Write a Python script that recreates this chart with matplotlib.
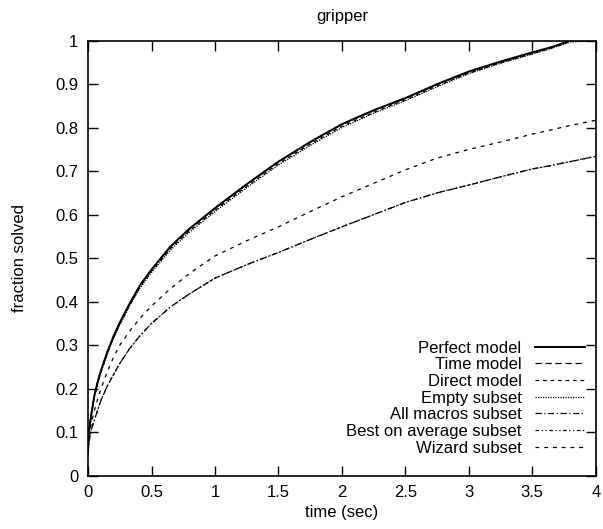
import numpy as np
import matplotlib.pyplot as plt

plt.rcParams['font.family'] = ['Liberation Sans', 'DejaVu Sans']

# time (sec) sample points
t = [0, 0.005, 0.025, 0.05, 0.075, 0.1, 0.15, 0.2, 0.25, 0.33, 0.41, 0.5, 0.65, 0.8,
     1.0, 1.25, 1.5, 1.75, 2.0, 2.25, 2.5, 2.75, 3.0, 3.25, 3.5, 3.65, 3.8, 4.0]

perfect = [0.05, 0.098, 0.14, 0.185, 0.215, 0.24, 0.283, 0.32, 0.352, 0.397, 0.438,
           0.474, 0.527, 0.568, 0.615, 0.67, 0.722, 0.767, 0.808, 0.84, 0.868, 0.9,
           0.929, 0.952, 0.973, 0.985, 1.0, 1.0]
time_model = [0.05, 0.097, 0.139, 0.184, 0.214, 0.239, 0.282, 0.319, 0.351, 0.396, 0.437,
              0.473, 0.526, 0.567, 0.614, 0.669, 0.721, 0.766, 0.807, 0.839, 0.867, 0.899,
              0.928, 0.951, 0.972, 0.984, 1.0, 1.0]
direct = [0.05, 0.096, 0.138, 0.182, 0.212, 0.237, 0.28, 0.317, 0.348, 0.393, 0.434,
          0.47, 0.522, 0.563, 0.61, 0.665, 0.717, 0.762, 0.803, 0.835, 0.864, 0.896,
          0.925, 0.949, 0.97, 0.983, 0.998, 1.0]
empty = [0.05, 0.095, 0.137, 0.181, 0.211, 0.236, 0.278, 0.315, 0.346, 0.391, 0.432,
         0.467, 0.519, 0.56, 0.607, 0.662, 0.714, 0.759, 0.8, 0.833, 0.862, 0.894,
         0.924, 0.948, 0.969, 0.982, 0.997, 1.0]
all_macros = [0.05, 0.075, 0.105, 0.128, 0.15, 0.172, 0.205, 0.232, 0.258, 0.293, 0.322,
              0.35, 0.388, 0.418, 0.454, 0.485, 0.513, 0.543, 0.572, 0.6, 0.628, 0.65,
              0.668, 0.687, 0.705, 0.713, 0.722, 0.734]
best_avg = [0.05, 0.075, 0.105, 0.128, 0.15, 0.172, 0.205, 0.232, 0.258, 0.293, 0.322,
            0.35, 0.388, 0.418, 0.454, 0.485, 0.513, 0.543, 0.572, 0.6, 0.628, 0.65,
            0.668, 0.687, 0.705, 0.713, 0.722, 0.734]
wizard = [0.05, 0.08, 0.12, 0.15, 0.175, 0.198, 0.238, 0.272, 0.3, 0.333, 0.362,
          0.39, 0.43, 0.465, 0.505, 0.54, 0.572, 0.607, 0.641, 0.672, 0.703, 0.73,
          0.75, 0.767, 0.785, 0.795, 0.805, 0.817]

fig = plt.figure(figsize=(6.03, 5.29), dpi=100)
ax = fig.add_axes([0.146, 0.1008, 0.842, 0.8224])

ax.plot(t, perfect, color='black', lw=1.4, ls='-', label='Perfect model')
ax.plot(t, time_model, color='black', lw=0.9, ls=(0, (5, 3)), label='Time model')
ax.plot(t, direct, color='black', lw=0.9, ls=(0, (3, 3)), label='Direct model')
ax.plot(t, empty, color='black', lw=0.9, ls=(0, (1, 1)), label='Empty subset')
ax.plot(t, all_macros, color='black', lw=0.9, ls=(0, (5, 2, 1, 2)), label='All macros subset')
ax.plot(t, best_avg, color='black', lw=0.9, ls=(0, (3, 2, 1, 2, 1, 2)), label='Best on average subset')
ax.plot(t, wizard, color='black', lw=0.9, ls=(0, (3, 4)), label='Wizard subset')

ax.set_xlim(0, 4)
ax.set_ylim(0, 1)
ax.set_xticks(np.arange(0, 4.01, 0.5))
ax.set_xticklabels(['0', '0.5', '1', '1.5', '2', '2.5', '3', '3.5', '4'])
ax.set_yticks(np.arange(0, 1.01, 0.1))
ax.set_yticklabels(['0', '0.1', '0.2', '0.3', '0.4', '0.5', '0.6', '0.7', '0.8', '0.9', '1'])
ax.tick_params(direction='in', length=7, width=1, top=True, right=True, labelsize=12, pad=7)
for s in ax.spines.values():
    s.set_linewidth(1.2)

ax.set_title('gripper', fontsize=12, pad=14)
ax.set_xlabel('time (sec)', fontsize=12, labelpad=3)
ax.set_ylabel('fraction solved', fontsize=12, labelpad=20)

ax.legend(loc='lower right', bbox_to_anchor=(0.995, 0.027), frameon=False,
          markerfirst=False, fontsize=12, handlelength=3.0, handletextpad=0.8,
          labelspacing=0.1, borderpad=0)

fig.savefig('out.png', dpi=100)
